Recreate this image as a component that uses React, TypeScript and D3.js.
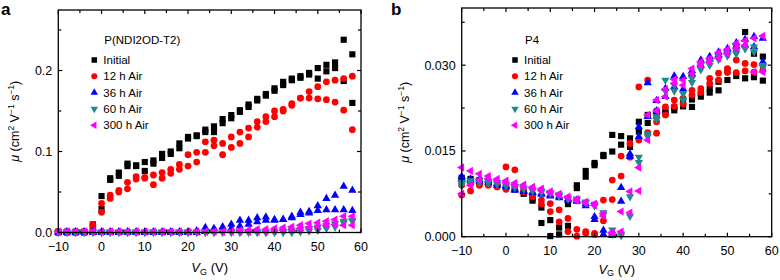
import React from 'react';
import * as d3 from 'd3';

const VG = [-10, -8, -6, -4, -2, 0, 2, 4, 6, 8, 10, 12, 14, 16, 18, 20, 22, 24, 26, 28, 30, 32, 34, 36, 38, 40, 42, 44, 46, 48, 50, 52, 54, 56, 58];

const SERIES_NAMES = ['Initial', '12 h Air', '36 h Air', '60 h Air', '300 h Air'];
const SERIES_COLORS = ['#000000', '#ff0000', '#0000ff', '#1f8a8a', '#ff00ff'];
const SERIES_SHAPES = ['square', 'circle', 'up', 'down', 'left'];

const X_TICKS = [-10, 0, 10, 20, 30, 40, 50, 60];
const X_MINOR = [-5, 5, 15, 25, 35, 45, 55];
const A_Y_TICKS = [0, 0.1, 0.2];
const A_Y_MINOR = [0.05, 0.15, 0.25];
const B_Y_TICKS = [0, 0.015, 0.03];
const B_Y_MINOR = [0.0075, 0.0225, 0.0375];

// Panel a: P(NDI2OD-T2), forward and reverse sweeps
const A_INITIAL_F = [0.001, 0.001, 0.001, 0.001, 0.010, 0.045, 0.067, 0.074, 0.085, 0.083, 0.087, 0.089, 0.097, 0.100, 0.110, 0.118, 0.120, 0.127, 0.131, 0.140, 0.145, 0.151, 0.158, 0.165, 0.171, 0.178, 0.186, 0.190, 0.193, 0.197, 0.203, 0.207, 0.210, 0.238, 0.220];
const A_INITIAL_R = [0.000, 0.000, 0.000, 0.000, 0.007, 0.029, 0.065, 0.070, 0.082, 0.082, 0.076, 0.085, 0.092, 0.097, 0.104, 0.116, 0.119, 0.124, 0.124, 0.135, 0.141, 0.149, 0.155, 0.163, 0.169, 0.175, 0.182, 0.188, 0.191, 0.195, 0.190, 0.199, 0.203, 0.187, 0.160];
const A_12H_F = [0.001, 0.001, 0.001, 0.001, 0.010, 0.036, 0.046, 0.052, 0.062, 0.069, 0.068, 0.071, 0.074, 0.078, 0.084, 0.096, 0.099, 0.112, 0.114, 0.110, 0.118, 0.124, 0.129, 0.137, 0.143, 0.150, 0.152, 0.159, 0.166, 0.174, 0.180, 0.186, 0.188, 0.190, 0.193];
const A_12H_R = [0.000, 0.000, 0.000, 0.000, 0.007, 0.025, 0.042, 0.050, 0.054, 0.066, 0.067, 0.059, 0.067, 0.073, 0.078, 0.082, 0.087, 0.099, 0.107, 0.096, 0.105, 0.110, 0.118, 0.130, 0.137, 0.143, 0.150, 0.157, 0.166, 0.166, 0.165, 0.164, 0.161, 0.151, 0.127];
const A_36H_F = [0.001, 0.001, 0.001, 0.001, 0.001, 0.001, 0.001, 0.001, 0.001, 0.001, 0.001, 0.001, 0.001, 0.001, 0.001, 0.001, 0.002, 0.006, 0.005, 0.007, 0.010, 0.015, 0.015, 0.018, 0.019, 0.016, 0.016, 0.020, 0.025, 0.026, 0.033, 0.042, 0.046, 0.057, 0.052];
const A_36H_R = [0.000, 0.000, 0.000, 0.000, 0.000, 0.000, 0.000, 0.000, 0.000, 0.000, 0.000, 0.000, 0.000, 0.000, 0.000, 0.000, 0.000, 0.001, 0.002, 0.003, 0.005, 0.008, 0.010, 0.013, 0.015, 0.015, 0.016, 0.018, 0.022, 0.024, 0.027, 0.028, 0.028, 0.028, 0.027];
const A_60H_F = [0.001, 0.001, 0.001, 0.001, 0.001, 0.001, 0.001, 0.001, 0.001, 0.001, 0.001, 0.001, 0.001, 0.001, 0.001, 0.001, 0.001, 0.001, 0.001, 0.001, 0.001, 0.001, 0.001, 0.001, 0.001, 0.002, 0.002, 0.003, 0.004, 0.005, 0.007, 0.009, 0.011, 0.014, 0.015];
const A_60H_R = [0.000, 0.000, 0.000, 0.000, 0.000, 0.000, 0.000, 0.000, 0.000, 0.000, 0.000, 0.000, 0.000, 0.000, 0.000, 0.000, 0.000, 0.000, 0.000, 0.000, 0.000, 0.000, 0.000, 0.000, 0.000, 0.000, 0.000, 0.000, 0.001, 0.002, 0.003, 0.005, 0.007, 0.012, 0.014];
const A_300H_F = [0.001, 0.001, 0.001, 0.001, 0.001, 0.001, 0.001, 0.001, 0.001, 0.001, 0.001, 0.001, 0.001, 0.001, 0.001, 0.001, 0.001, 0.001, 0.001, 0.001, 0.002, 0.003, 0.003, 0.004, 0.004, 0.005, 0.006, 0.007, 0.009, 0.011, 0.012, 0.014, 0.016, 0.020, 0.020];
const A_300H_R = [0.001, 0.001, 0.001, 0.001, 0.001, 0.001, 0.001, 0.001, 0.001, 0.001, 0.001, 0.001, 0.001, 0.001, 0.001, 0.001, 0.001, 0.001, 0.001, 0.001, 0.001, 0.001, 0.001, 0.001, 0.001, 0.002, 0.003, 0.004, 0.005, 0.006, 0.007, 0.009, 0.010, 0.009, 0.009];

// Panel b: P4
const B_INITIAL_F = [0.0103, 0.0101, 0.0099, 0.0096, 0.0093, 0.0090, 0.0085, 0.0078, 0.0067, 0.0051, 0.0029, 0.0016, 0.0057, 0.0090, 0.0115, 0.0129, 0.0143, 0.0178, 0.0176, 0.0172, 0.0201, 0.0213, 0.0219, 0.0221, 0.0226, 0.0236, 0.0240, 0.0251, 0.0259, 0.0271, 0.0291, 0.0329, 0.0358, 0.0320, 0.0315];
const B_INITIAL_R = [0.0100, 0.0098, 0.0096, 0.0094, 0.0091, 0.0088, 0.0083, 0.0075, 0.0063, 0.0024, 0.0001, 0.0004, 0.0019, 0.0085, 0.0105, 0.0125, 0.0141, 0.0149, 0.0161, 0.0157, 0.0184, 0.0199, 0.0211, 0.0216, 0.0221, 0.0228, 0.0227, 0.0245, 0.0252, 0.0256, 0.0274, 0.0281, 0.0277, 0.0279, 0.0273];
const B_12H_F = [0.0090, 0.0092, 0.0092, 0.0091, 0.0089, 0.0122, 0.0117, 0.0082, 0.0072, 0.0064, 0.0058, 0.0047, 0.0032, 0.0013, 0.0009, 0.0006, 0.0064, 0.0099, 0.0106, 0.0163, 0.0262, 0.0274, 0.0201, 0.0227, 0.0239, 0.0242, 0.0256, 0.0259, 0.0277, 0.0286, 0.0294, 0.0309, 0.0303, 0.0301, 0.0300];
const B_12H_R = [0.0073, 0.0080, 0.0090, 0.0090, 0.0087, 0.0083, 0.0083, 0.0078, 0.0070, 0.0057, 0.0044, 0.0026, 0.0009, 0.0001, 0.0006, 0.0004, 0.0028, 0.0065, 0.0141, 0.0139, 0.0169, 0.0182, 0.0181, 0.0213, 0.0228, 0.0232, 0.0248, 0.0252, 0.0268, 0.0274, 0.0287, 0.0287, 0.0290, 0.0288, 0.0291];
const B_36H_F = [0.0105, 0.0101, 0.0100, 0.0098, 0.0093, 0.0090, 0.0083, 0.0080, 0.0078, 0.0076, 0.0073, 0.0071, 0.0066, 0.0064, 0.0058, 0.0035, 0.0011, 0.0006, 0.0086, 0.0145, 0.0192, 0.0269, 0.0238, 0.0259, 0.0281, 0.0280, 0.0290, 0.0309, 0.0315, 0.0323, 0.0329, 0.0339, 0.0345, 0.0350, 0.0347];
const B_36H_R = [0.0100, 0.0098, 0.0097, 0.0095, 0.0090, 0.0087, 0.0081, 0.0079, 0.0077, 0.0074, 0.0071, 0.0068, 0.0064, 0.0062, 0.0054, 0.0030, 0.0004, 0.0002, 0.0062, 0.0140, 0.0175, 0.0210, 0.0220, 0.0245, 0.0262, 0.0258, 0.0285, 0.0300, 0.0310, 0.0318, 0.0325, 0.0333, 0.0335, 0.0332, 0.0306];
const B_60H_F = [0.0095, 0.0098, 0.0098, 0.0097, 0.0095, 0.0092, 0.0088, 0.0085, 0.0083, 0.0080, 0.0077, 0.0073, 0.0068, 0.0066, 0.0061, 0.0057, 0.0042, 0.0012, 0.0005, 0.0070, 0.0139, 0.0180, 0.0210, 0.0274, 0.0265, 0.0239, 0.0277, 0.0300, 0.0306, 0.0315, 0.0321, 0.0326, 0.0329, 0.0323, 0.0297];
const B_60H_R = [0.0090, 0.0094, 0.0095, 0.0094, 0.0092, 0.0089, 0.0086, 0.0083, 0.0080, 0.0078, 0.0075, 0.0071, 0.0066, 0.0064, 0.0059, 0.0054, 0.0038, 0.0004, 0.0002, 0.0036, 0.0130, 0.0175, 0.0205, 0.0255, 0.0255, 0.0250, 0.0270, 0.0292, 0.0300, 0.0310, 0.0316, 0.0320, 0.0330, 0.0332, 0.0300];
const B_300H_F = [0.0121, 0.0115, 0.0110, 0.0106, 0.0101, 0.0098, 0.0094, 0.0091, 0.0087, 0.0084, 0.0079, 0.0075, 0.0070, 0.0066, 0.0061, 0.0058, 0.0040, 0.0008, 0.0044, 0.0079, 0.0121, 0.0213, 0.0239, 0.0258, 0.0275, 0.0274, 0.0294, 0.0306, 0.0312, 0.0322, 0.0328, 0.0338, 0.0343, 0.0347, 0.0351];
const B_300H_R = [0.0075, 0.0090, 0.0100, 0.0102, 0.0098, 0.0095, 0.0091, 0.0088, 0.0085, 0.0081, 0.0077, 0.0073, 0.0068, 0.0063, 0.0059, 0.0055, 0.0036, 0.0005, 0.0009, 0.0042, 0.0080, 0.0169, 0.0220, 0.0245, 0.0268, 0.0265, 0.0285, 0.0300, 0.0305, 0.0312, 0.0320, 0.0330, 0.0335, 0.0288, 0.0288];

const PANEL_A_SERIES = [
  [A_INITIAL_F, A_INITIAL_R],
  [A_12H_F, A_12H_R],
  [A_36H_F, A_36H_R],
  [A_60H_F, A_60H_R],
  [A_300H_F, A_300H_R],
];
const PANEL_B_SERIES = [
  [B_INITIAL_F, B_INITIAL_R],
  [B_12H_F, B_12H_R],
  [B_36H_F, B_36H_R],
  [B_60H_F, B_60H_R],
  [B_300H_F, B_300H_R],
];

const FONT = "'Liberation Sans', Arial, Helvetica, sans-serif";

function symbolPath(shape: string, scale = 1): { d: string; rot: number } {
  if (shape === 'square') return { d: d3.symbol().type(d3.symbolSquare).size(38 * scale)() as string, rot: 0 };
  if (shape === 'circle') return { d: d3.symbol().type(d3.symbolCircle).size(36 * scale)() as string, rot: 0 };
  const d = d3.symbol().type(d3.symbolTriangle).size(30 * scale)() as string;
  if (shape === 'up') return { d, rot: 0 };
  if (shape === 'down') return { d, rot: 180 };
  return { d, rot: -90 };
}

const fmtX = (v: number) => (v < 0 ? '\u2212' + Math.abs(v) : String(v));

type PanelProps = {
  letter: string;
  letterX: number;
  left: number;
  right: number;
  top: number;
  bottom: number;
  yMax: number;
  yTicks: number[];
  yMinor: number[];
  yFmt: (v: number) => string;
  series: number[][][];
  title: string;
  legendX: number;
  ylabelX: number;
  xlabelY: number;
};

function Panel(p: PanelProps) {
  const x = d3.scaleLinear().domain([-10, 60]).range([p.left, p.right]);
  const y = d3.scaleLinear().domain([0, p.yMax]).range([p.bottom, p.top]);
  const maj = 4;
  const mnr = 3;
  const midY = (p.top + p.bottom) / 2;
  const midX = (p.left + p.right) / 2;
  const legendRows = [60, 76.3, 92.6, 108.9, 125.2];
  return (
    <g>
      <text x={p.letterX} y={15} fontFamily={FONT} fontWeight="bold" fontSize={17}>{p.letter}</text>
      {p.series.map((sweeps, si) => {
        const sym = symbolPath(SERIES_SHAPES[si]);
        return (
          <g key={si} fill={SERIES_COLORS[si]}>
            {sweeps.map((vals, wi) =>
              vals.map((v, i) => (
                <path
                  key={wi + '-' + i}
                  d={sym.d}
                  transform={`translate(${x(VG[i])},${y(v)}) rotate(${sym.rot})`}
                />
              ))
            )}
          </g>
        );
      })}
      <rect x={p.left} y={p.top} width={p.right - p.left} height={p.bottom - p.top} fill="none" stroke="#000" strokeWidth={1.3} />
      {X_TICKS.map((t) => (
        <g key={'xt' + t}>
          <line x1={x(t)} x2={x(t)} y1={p.bottom} y2={p.bottom - maj} stroke="#000" strokeWidth={1.2} />
          <line x1={x(t)} x2={x(t)} y1={p.top} y2={p.top + maj} stroke="#000" strokeWidth={1.2} />
          <text x={x(t)} y={p.bottom + 18} textAnchor="middle" fontFamily={FONT} fontSize={12.5}>{fmtX(t)}</text>
        </g>
      ))}
      {X_MINOR.map((t) => (
        <g key={'xm' + t}>
          <line x1={x(t)} x2={x(t)} y1={p.bottom} y2={p.bottom - mnr} stroke="#000" strokeWidth={1.2} />
          <line x1={x(t)} x2={x(t)} y1={p.top} y2={p.top + mnr} stroke="#000" strokeWidth={1.2} />
        </g>
      ))}
      {p.yTicks.map((t) => (
        <g key={'yt' + t}>
          <line x1={p.left} x2={p.left + maj} y1={y(t)} y2={y(t)} stroke="#000" strokeWidth={1.2} />
          <line x1={p.right} x2={p.right - maj} y1={y(t)} y2={y(t)} stroke="#000" strokeWidth={1.2} />
          <text x={p.left - 6} y={y(t) + 4.5} textAnchor="end" fontFamily={FONT} fontSize={12.5}>{p.yFmt(t)}</text>
        </g>
      ))}
      {p.yMinor.map((t) => (
        <g key={'ym' + t}>
          <line x1={p.left} x2={p.left + mnr} y1={y(t)} y2={y(t)} stroke="#000" strokeWidth={1.2} />
          <line x1={p.right} x2={p.right - mnr} y1={y(t)} y2={y(t)} stroke="#000" strokeWidth={1.2} />
        </g>
      ))}
      <text x={midX} y={p.xlabelY} textAnchor="middle" fontFamily={FONT} fontSize={13}>
        <tspan fontStyle="italic">V</tspan>
        <tspan fontSize={9} dy={2.5}>G</tspan>
        <tspan dy={-2.5}> (V)</tspan>
      </text>
      <text
        transform={`translate(${p.ylabelX},${midY}) rotate(-90)`}
        textAnchor="middle"
        fontFamily={FONT}
        fontSize={12.5}
      >
        <tspan fontStyle="italic">μ</tspan>
        <tspan> (cm</tspan>
        <tspan fontSize={8.5} dy={-5}>2</tspan>
        <tspan dy={5}> V</tspan>
        <tspan fontSize={8.5} dy={-5}>−1</tspan>
        <tspan dy={5}> s</tspan>
        <tspan fontSize={8.5} dy={-5}>−1</tspan>
        <tspan dy={5}>)</tspan>
      </text>
      <text x={p.legendX + 10} y={44} fontFamily={FONT} fontSize={11.5}>{p.title}</text>
      {SERIES_NAMES.map((name, si) => {
        const sym = symbolPath(SERIES_SHAPES[si], 0.8);
        return (
          <g key={'lg' + si}>
            <path d={sym.d} fill={SERIES_COLORS[si]} transform={`translate(${p.legendX},${legendRows[si]}) rotate(${sym.rot})`} />
            <text x={p.legendX + 9} y={legendRows[si] + 4} fontFamily={FONT} fontSize={11.5}>{name}</text>
          </g>
        );
      })}
    </g>
  );
}

export default function App() {
  return (
    <svg width={780} height={280} style={{ position: 'absolute', left: 0, top: 0, background: '#fff' }}>
      <rect width={780} height={280} fill="#fff" />
      <Panel
        letter="a"
        letterX={1}
        left={58.3}
        right={361}
        top={10}
        bottom={232.5}
        yMax={0.2747}
        yTicks={A_Y_TICKS}
        yMinor={A_Y_MINOR}
        yFmt={(v) => v.toFixed(1)}
        series={PANEL_A_SERIES}
        title="P(NDI2OD-T2)"
        legendX={94.3}
        ylabelX={19}
        xlabelY={272}
      />
      <Panel
        letter="b"
        letterX={391}
        left={461.7}
        right={771.7}
        top={8}
        bottom={236.7}
        yMax={0.04}
        yTicks={B_Y_TICKS}
        yMinor={B_Y_MINOR}
        yFmt={(v) => v.toFixed(3)}
        series={PANEL_B_SERIES}
        title="P4"
        legendX={515}
        ylabelX={409}
        xlabelY={273.5}
      />
    </svg>
  );
}
